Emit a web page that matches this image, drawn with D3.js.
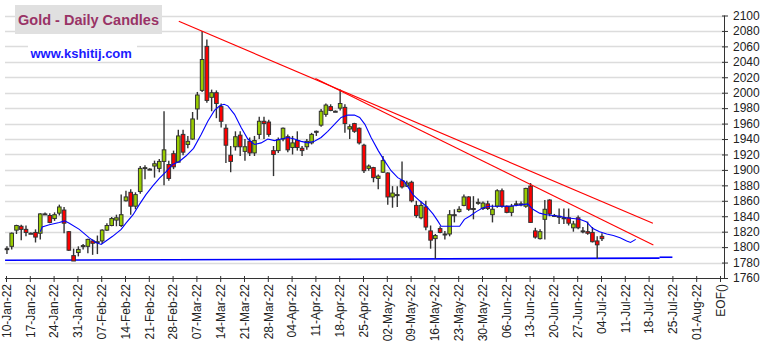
<!DOCTYPE html>
<html><head><meta charset="utf-8">
<script src="https://cdn.jsdelivr.net/npm/d3@7"></script>
<style>
body{margin:0;background:#fff;}
svg{display:block;font-family:Arial,"Liberation Sans",sans-serif;}
</style>
</head><body>
<svg id="chart" width="763" height="344"></svg>
<script>
// ---- data ----
const xLabels = ["10-Jan-22","17-Jan-22","24-Jan-22","31-Jan-22","07-Feb-22","14-Feb-22","21-Feb-22","28-Feb-22",
  "07-Mar-22","14-Mar-22","21-Mar-22","28-Mar-22","04-Apr-22","11-Apr-22","18-Apr-22","25-Apr-22",
  "02-May-22","09-May-22","16-May-22","23-May-22","30-May-22","06-Jun-22","13-Jun-22","20-Jun-22",
  "27-Jun-22","04-Jul-22","11-Jul-22","18-Jul-22","25-Jul-22","01-Aug-22","EOF()"];
const yTicks = [1760,1780,1800,1820,1840,1860,1880,1900,1920,1940,1960,1980,2000,2020,2040,2060,2080,2100];

// daily OHLC, one per weekday starting Mon 10-Jan-22
const open  = [1798,1801,1822,1827,1823,1818,1819,1818,1843,1841,1837,1844,1848,1820,1789,1793,1801,1801,1808,1806,
               1808,1822,1828,1835,1828,1860,1871,1853,1872,1902,1901,1905,1902,1911,1907,1921,1910,1946,1933,1940,
               1979,2003,2060,1994,2000,1982,1954,1919,1930,1945,1924,1937,1922,1946,1963,1962,1925,1925,1940,1943,
               1929,1938,1928,1930,1935,1950,1958,1972,1982,1976,1980,1981,1953,1960,1954,1932,1902,1903,1889,1897,
               1896,1865,1868,1886,1879,1884,1854,1838,1852,1821,1811,1824,1817,1817,1842,1846,1854,1865,1850,1857,
               1850,1856,1842,1853,1873,1853,1845,1856,1856,1853,1879,1821,1811,1836,1861,1841,1840,1838,1838,1825,
               1838,1821,1820,1819,1808,1814];
const high  = [1801,1819,1829,1829,1828,1819,1823,1844,1845,1844,1845,1855,1852,1821,1798,1801,1804,1811,1810,1815,
               1823,1831,1839,1842,1868,1873,1875,1871,1905,1906,1902,1912,1914,1976,1912,1925,1952,1952,1944,1975,
               2001,2080,2069,2004,2003,1986,1959,1931,1950,1950,1940,1942,1944,1969,1969,1965,1931,1942,1955,1946,
               1944,1950,1931,1940,1948,1951,1979,1986,1985,1977,2004,1985,1959,1961,1955,1934,1907,1904,1894,1918,
               1897,1879,1879,1911,1886,1886,1860,1859,1860,1828,1817,1827,1821,1848,1849,1853,1868,1866,1866,1863,
               1859,1860,1855,1875,1876,1854,1856,1860,1859,1877,1883,1825,1823,1861,1862,1843,1850,1850,1850,1834,
               1841,1826,1833,1826,1814,1818];
const low   = [1791,1797,1817,1809,1814,1817,1806,1810,1842,1831,1834,1841,1818,1795,1783,1788,1797,1792,1790,1791,
               1804,1821,1827,1827,1826,1859,1842,1849,1869,1888,1900,1890,1897,1880,1886,1901,1910,1919,1928,1939,
               1965,2001,1987,1976,1967,1955,1909,1897,1925,1918,1912,1918,1918,1940,1940,1943,1892,1922,1937,1923,
               1920,1925,1918,1926,1933,1944,1956,1969,1976,1975,1977,1948,1940,1948,1933,1896,1899,1884,1875,1896,
               1855,1851,1852,1876,1878,1858,1838,1836,1822,1798,1785,1818,1810,1814,1832,1845,1853,1847,1836,1855,
               1848,1848,1832,1851,1851,1844,1840,1853,1853,1851,1832,1811,1810,1810,1840,1839,1830,1830,1828,1820,
               1823,1818,1816,1806,1785,1808];
const close = [1798,1818,1828,1823,1819,1818,1813,1843,1843,1832,1842,1852,1831,1796,1782,1797,1802,1810,1805,1807,
               1822,1828,1837,1838,1842,1865,1853,1868,1902,1903,1901,1908,1911,1926,1889,1904,1944,1923,1937,1966,
               1997,2043,1990,2000,1986,1963,1932,1911,1943,1930,1930,1922,1938,1963,1960,1946,1920,1939,1954,1926,
               1935,1929,1925,1937,1946,1950,1976,1984,1977,1976,1986,1960,1956,1950,1935,1899,1905,1890,1892,1912,
               1865,1870,1868,1878,1883,1860,1841,1854,1826,1809,1815,1819,1817,1842,1842,1849,1865,1849,1850,1858,
               1857,1850,1849,1873,1853,1845,1853,1856,1856,1876,1832,1813,1820,1849,1843,1841,1840,1837,1831,1830,
               1825,1821,1818,1807,1803,1811];

// blue moving-average line (day index, value)
const maDay = [7.2,7.6,9.1,11.2,12.3,13.3,15.4,17.5,18.9,20.0,21.0,22.4,24.2,25.2,26.7,28.0,29.4,30.8,32.2,33.7,
               35.0,36.4,37.8,39.4,41.0,42.4,43.8,44.9,45.8,46.6,48.0,49.4,50.8,52.2,53.6,55.0,56.4,57.8,59.2,60.6,
               62.0,63.4,64.8,66.2,67.6,69.0,70.4,71.8,73.2,74.3,75.4,76.7,78.2,79.5,80.9,82.3,83.7,85.5,86.9,88.3,
               89.7,90.7,91.4,92.5,93.9,95.3,96.3,97.4,98.8,100.2,101.6,103.0,104.4,105.8,107.2,108.6,109.6,110.7,112.1,113.5,
               114.9,116.3,117.7,119.1,120.5,121.9,123.3,124.7,126.2,127.6,129.0,130.4,131.2,132.3];
const maVal = [1820,1826,1829,1832,1834,1831,1823,1812,1806,1803.5,1808,1814,1823,1831,1842,1855,1868,1879,1889,1898,
               1907,1911,1918,1928,1946,1963,1977,1983,1985,1983,1972,1955,1940,1933,1935,1940,1938,1940,1942,1940,
               1937,1935,1937,1942,1950,1959,1968,1971,1971,1968,1959,1942,1925,1912,1899,1890,1885,1868,1860,1853,
               1843,1834,1827,1827,1827,1827,1836,1840,1846,1851,1853,1853,1853,1853,1854,1855,1856,1849,1844,1842,
               1841,1840,1838,1837,1836,1833,1824,1820,1817,1815,1812,1808,1806,1810];

// drawn lines: [startDay, startValue, endDay, endValue]
const resistUpper = [36.3, 2092.5, 135.9, 1830.8];
const resistLower = [65.0, 2018.4, 136.0, 1802.7];
const supportLine = [-0.2, 1783.0, 137.3, 1785.7];
const supportTail = [137.3, 1786.9, 140.0, 1786.9];

// ---- drawing ----
const svg = d3.select("#chart");
const x = d3.scaleLinear().domain([0,150]).range([6,720]);
const y = d3.scaleLinear().domain([1760,2100]).range([278,15.5]);
const cx = d => x(d + 0.2);
const left = 5, right = 724;

// grid
svg.append("g").selectAll("line").data(yTicks.filter(v => v > 1760)).join("line")
  .attr("x1", left).attr("x2", right)
  .attr("y1", d => Math.round(y(d)) + 0.5).attr("y2", d => Math.round(y(d)) + 0.5)
  .attr("stroke", "#dcdcdc").attr("stroke-width", 1.5);

// support line
const seg = (a, col, w) => svg.append("line")
  .attr("x1", x(a[0])).attr("y1", y(a[1])).attr("x2", x(a[2])).attr("y2", y(a[3]))
  .attr("stroke", col).attr("stroke-width", w);
seg(supportLine, "#0000ff", 1.6);
seg(supportTail, "#0000ff", 1.6);

// candles
const idx = d3.range(close.length);
const cg = svg.append("g");
cg.selectAll("line.w").data(idx).join("line").attr("class","w")
  .attr("x1", i => cx(i)).attr("x2", i => cx(i))
  .attr("y1", i => y(high[i])).attr("y2", i => y(low[i]))
  .attr("stroke", "#333").attr("stroke-width", 1.4);
cg.selectAll("rect").data(idx).join("rect")
  .attr("x", i => cx(i) - 1.8).attr("width", 3.6)
  .attr("y", i => y(Math.max(open[i], close[i])))
  .attr("height", i => Math.max(1, Math.abs(y(open[i]) - y(close[i]))))
  .attr("fill", i => Math.abs(close[i]-open[i]) < 1 ? "#333" : (close[i] > open[i] ? "#99cc00" : "#ff0000"))
  .attr("stroke", "#333").attr("stroke-width", 1);

// moving average
svg.append("path").datum(d3.range(maDay.length))
  .attr("d", d3.line().x(i => x(maDay[i])).y(i => y(maVal[i])))
  .attr("fill", "none").attr("stroke", "#0000ff").attr("stroke-width", 1.1);

// resistance lines
seg(resistUpper, "#ff0000", 1.1);
seg(resistLower, "#ff0000", 1.1);

// axes
const yAxis = d3.axisRight(y).tickValues(yTicks).tickFormat(d3.format("d")).tickSize(4).tickPadding(5).tickSizeOuter(0);
const ya = svg.append("g").attr("transform", `translate(${right},0)`).call(yAxis);
ya.select(".domain").attr("stroke", "#333").attr("d", `M0.5,${y(2100)}V${y(1760)}`);
ya.selectAll(".tick line").attr("stroke", "#333").attr("x1", -2);
ya.selectAll("text").attr("font-size", 12).attr("fill", "#222").attr("font-family", "Arial, 'Liberation Sans', sans-serif");

const xAxis = d3.axisBottom(x).tickValues(d3.range(0, 151, 5)).tickFormat((d, i) => xLabels[i]).tickSize(4).tickSizeOuter(0);
const xa = svg.append("g").attr("transform", `translate(0,${y(1760)})`).call(xAxis);
xa.select(".domain").attr("stroke", "#333").attr("d", `M${left},0.5H${right}`);
xa.selectAll(".tick line").attr("stroke", "#333").attr("y1", -2);
xa.selectAll("text").attr("font-size", 12).attr("fill", "#222")
  .attr("font-family", "Arial, 'Liberation Sans', sans-serif")
  .attr("transform", "rotate(-90)").attr("text-anchor", "end")
  .attr("x", -6).attr("y", 0).attr("dy", "0.35em");

// title boxes
svg.append("rect").attr("x", 15).attr("y", 5).attr("width", 147).attr("height", 29).attr("fill", "#e0e0e0");
svg.append("text").attr("x", 18).attr("y", 24.5).text("Gold - Daily Candles")
  .attr("font-size", 14.5).attr("font-weight", "bold").attr("fill", "#993366");
svg.append("rect").attr("x", 28).attr("y", 43).attr("width", 109).attr("height", 18).attr("fill", "#fff");
svg.append("text").attr("x", 30.5).attr("y", 57.5).text("www.kshitij.com")
  .attr("font-size", 13).attr("font-weight", "bold").attr("fill", "#1a1aff");
</script>
</body></html>
